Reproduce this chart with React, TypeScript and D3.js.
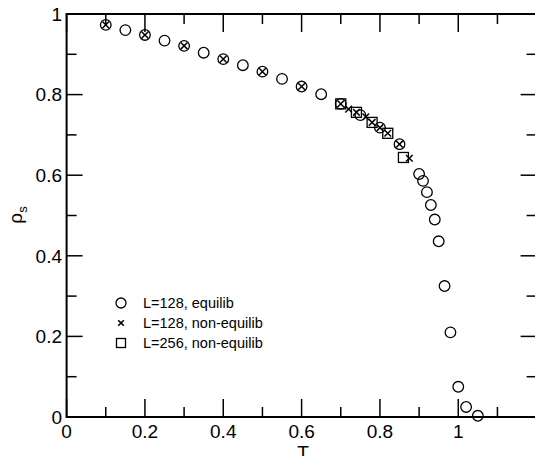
import React from "react";
import * as d3 from "d3";

const eqT = [0.1, 0.15, 0.2, 0.25, 0.3, 0.35, 0.4, 0.45, 0.5, 0.55, 0.6, 0.65, 0.7, 0.75, 0.8, 0.85, 0.9, 0.91, 0.92, 0.93, 0.94, 0.95, 0.965, 0.98, 1.0, 1.02, 1.05];
const eqRho = [0.973, 0.96, 0.948, 0.934, 0.921, 0.904, 0.888, 0.873, 0.857, 0.839, 0.82, 0.801, 0.777, 0.749, 0.718, 0.677, 0.603, 0.586, 0.558, 0.526, 0.49, 0.436, 0.325, 0.21, 0.075, 0.025, 0.003];

const ne128T = [0.1, 0.2, 0.3, 0.4, 0.5, 0.6, 0.7, 0.72, 0.74, 0.764, 0.78, 0.8, 0.82, 0.85, 0.875];
const ne128Rho = [0.973, 0.948, 0.921, 0.888, 0.857, 0.82, 0.777, 0.764, 0.756, 0.745, 0.731, 0.718, 0.704, 0.677, 0.642];

const ne256T = [0.7, 0.74, 0.78, 0.82, 0.86];
const ne256Rho = [0.777, 0.756, 0.731, 0.704, 0.644];

const xMajor = [0, 0.2, 0.4, 0.6, 0.8, 1, 1.2];
const xMinor = [0.1, 0.3, 0.5, 0.7, 0.9, 1.1];
const yMajor = [0, 0.2, 0.4, 0.6, 0.8, 1];
const yMinor = [0.1, 0.3, 0.5, 0.7, 0.9];

const legendLabels = ["L=128, equilib", "L=128, non-equilib", "L=256, non-equilib"];

const FONT = "'Liberation Sans', Arial, Helvetica, sans-serif";

export default function App() {
  const W = 535, H = 456;
  const x = d3.scaleLinear().domain([0, 1.2]).range([66.6, 536.6]);
  const y = d3.scaleLinear().domain([0, 1]).range([417, 14]);
  const fmt = (v: number) => (v === 0 ? "0" : v === 1 ? "1" : d3.format(".1f")(v));
  const x0 = x(0), x1 = x(1.2), y0 = y(0), y1 = y(1);

  const cross = (cx: number, cy: number, s: number, key: string, sw = 1.5) => (
    <g key={key} stroke="#000" strokeWidth={sw}>
      <line x1={cx - s} y1={cy - s} x2={cx + s} y2={cy + s} />
      <line x1={cx - s} y1={cy + s} x2={cx + s} y2={cy - s} />
    </g>
  );

  return (
    <svg width={W} height={H} style={{ position: "absolute", left: 0, top: 0, background: "#fff" }} fontFamily={FONT}>
      {/* ticks */}
      <g stroke="#000" strokeWidth={1.5}>
        {xMajor.map((v) => (
          <g key={"xm" + v}>
            <line x1={x(v)} x2={x(v)} y1={y0} y2={y0 - 18} />
            <line x1={x(v)} x2={x(v)} y1={y1} y2={y1 + 18} />
          </g>
        ))}
        {xMinor.map((v) => (
          <g key={"xn" + v}>
            <line x1={x(v)} x2={x(v)} y1={y0} y2={y0 - 10} />
            <line x1={x(v)} x2={x(v)} y1={y1} y2={y1 + 10} />
          </g>
        ))}
        {yMajor.map((v) => (
          <g key={"ym" + v}>
            <line x1={x0} x2={x0 + 16} y1={y(v)} y2={y(v)} />
            <line x1={x1} x2={x1 - 16} y1={y(v)} y2={y(v)} />
          </g>
        ))}
        {yMinor.map((v) => (
          <g key={"yn" + v}>
            <line x1={x0} x2={x0 + 10} y1={y(v)} y2={y(v)} />
            <line x1={x1} x2={x1 - 10} y1={y(v)} y2={y(v)} />
          </g>
        ))}
      </g>
      <rect x={x0} y={y1} width={x1 - x0} height={y0 - y1} fill="none" stroke="#000" strokeWidth={2} />
      {/* tick labels */}
      <g fontSize={19} fill="#000">
        {xMajor.filter((v) => v <= 1).map((v) => (
          <text key={"xl" + v} x={x(v)} y={438} textAnchor="middle">{fmt(v)}</text>
        ))}
        {yMajor.map((v) => (
          <text key={"yl" + v} x={62} y={y(v)} dy="0.36em" textAnchor="end">{fmt(v)}</text>
        ))}
      </g>
      {/* axis titles */}
      <text x={303} y={459} fontSize={19} textAnchor="middle">T</text>
      <text transform="translate(22,215) rotate(-90)" fontSize={19} textAnchor="middle">
        ρ<tspan fontSize={13} dy={5}>s</tspan>
      </text>
      {/* data */}
      <g fill="none" stroke="#000" strokeWidth={1.3}>
        {eqT.map((t, i) => (
          <circle key={"c" + i} cx={x(t)} cy={y(eqRho[i])} r={5.3} />
        ))}
        {ne256T.map((t, i) => (
          <rect key={"s" + i} x={x(t) - 5} y={y(ne256Rho[i]) - 5} width={10} height={10} />
        ))}
      </g>
      {ne128T.map((t, i) => cross(x(t), y(ne128Rho[i]), 3.3, "x" + i))}
      {/* legend */}
      <g>
        <circle cx={121} cy={303} r={5} fill="none" stroke="#000" strokeWidth={1.3} />
        {cross(121, 323, 2.8, "lx", 1.6)}
        <rect x={116.5} y={338.5} width={9} height={9} fill="none" stroke="#000" strokeWidth={1.3} />
        {legendLabels.map((l, i) => (
          <text key={"lg" + i} x={143} y={307.5 + i * 20} fontSize={14.5}>{l}</text>
        ))}
      </g>
    </svg>
  );
}
